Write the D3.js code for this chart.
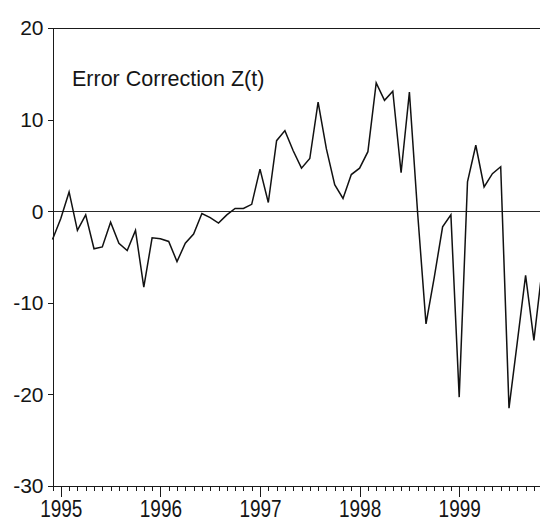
<!DOCTYPE html>
<meta charset="utf-8">
<style>
    body { margin: 0; background: #fff; }
    svg { display: block; font-family: "Liberation Sans", Arial, sans-serif; }
    .axis path, .axis line { stroke: #1a1a1a; stroke-width: 1px; shape-rendering: crispEdges; }
    .axis text { fill: #151515; }
</style>
<body>
<script src="https://d3js.org/d3.v7.min.js"></script>
<script>
    // monthly observations, first one is 1994M12
    var firstYear = 1994, firstMonth = 12;
    var zt = [-3.1, -0.8, 2.1, -2.1, -0.4, -4.1, -3.9, -1.2, -3.5, -4.3,
              -2.1, -8.3, -2.9, -3.0, -3.3, -5.5, -3.5, -2.5, -0.25, -0.7,
              -1.3, -0.4, 0.3, 0.3, 0.75, 4.6, 0.95, 7.7, 8.8, 6.6,
              4.7, 5.75, 11.9, 6.8, 2.9, 1.4, 4.0, 4.7, 6.5, 14.0,
              12.1, 13.1, 4.2, 13.0, -0.3, -12.3, -7.2, -1.7, -0.4, -20.3,
              3.2, 7.2, 2.65, 4.1, 4.85, -21.5, -14.3, -7.0, -14.1, -6.3];
    var yearLabels = [1995, 1996, 1997, 1998, 1999];
    var yTicks = [20, 10, 0, -10, -20, -30];
    var title = "Error Correction Z(t)";

    var width = 540, height = 522;
    var plotLeft = 52.5, plotTop = 28, plotBottom = 486;

    // index of an observation from year + month
    function obsIndex(year, month) {
        return (year - firstYear) * 12 + (month - firstMonth);
    }

    var x = d3.scaleLinear()
        .domain([0, zt.length - 1])
        .range([plotLeft, plotLeft + 8.3 * (zt.length - 1)]);
    var y = d3.scaleLinear()
        .domain([-30, 20])
        .range([plotBottom, plotTop]);

    var svg = d3.select("body").append("svg")
        .attr("width", width)
        .attr("height", height);

    svg.append("rect").attr("width", width).attr("height", height).attr("fill", "#fff");

    // top border of the frame
    svg.append("line")
        .attr("x1", plotLeft).attr("x2", width)
        .attr("y1", y(20) + 0.5).attr("y2", y(20) + 0.5)
        .attr("stroke", "#1a1a1a");

    // zero line
    svg.append("line")
        .attr("x1", plotLeft).attr("x2", width)
        .attr("y1", y(0)).attr("y2", y(0))
        .attr("stroke", "#2a2a2a").attr("shape-rendering", "crispEdges");

    // y axis (plain hyphen for negatives, like the original)
    var yAxis = svg.append("g")
        .attr("class", "axis")
        .attr("transform", "translate(" + plotLeft + ",0)")
        .call(d3.axisLeft(y).tickValues(yTicks).tickSize(5).tickPadding(4).tickSizeOuter(0)
            .tickFormat(function(d) { return String(d); }));
    yAxis.selectAll("text").style("font-size", "21px").attr("dy", "0.33em");

    // x axis: one tick per month, longer ticks at january
    var xMinor = svg.append("g")
        .attr("class", "axis")
        .attr("transform", "translate(0," + plotBottom + ")")
        .call(d3.axisBottom(x).tickValues(d3.range(zt.length)).tickSize(5).tickSizeOuter(0).tickFormat(""));
    xMinor.select(".domain").attr("d", "M" + plotLeft + ",0.5H" + width);

    var xMajor = svg.append("g")
        .attr("class", "axis")
        .attr("transform", "translate(0," + plotBottom + ")")
        .call(d3.axisBottom(x)
            .tickValues(yearLabels.map(function(yr) { return obsIndex(yr, 1); }))
            .tickSize(11)
            .tickFormat(function(d, i) { return yearLabels[i]; }));
    xMajor.select(".domain").remove();
    xMajor.selectAll("text")
        .style("font-size", "19px")
        .attr("y", null).attr("dy", null)
        .attr("transform", "translate(0,31) scale(1,1.3)");

    // series
    var line = d3.line()
        .x(function(d, i) { return x(i); })
        .y(function(d) { return y(d); });

    svg.append("path")
        .datum(zt)
        .attr("fill", "none")
        .attr("stroke", "#111")
        .attr("stroke-width", 1.5)
        .attr("stroke-linejoin", "miter")
        .attr("d", line);

    svg.append("text")
        .attr("x", 72)
        .attr("y", 86)
        .attr("fill", "#151515")
        .style("font-size", "21.5px")
        .text(title);
</script>
</body>
